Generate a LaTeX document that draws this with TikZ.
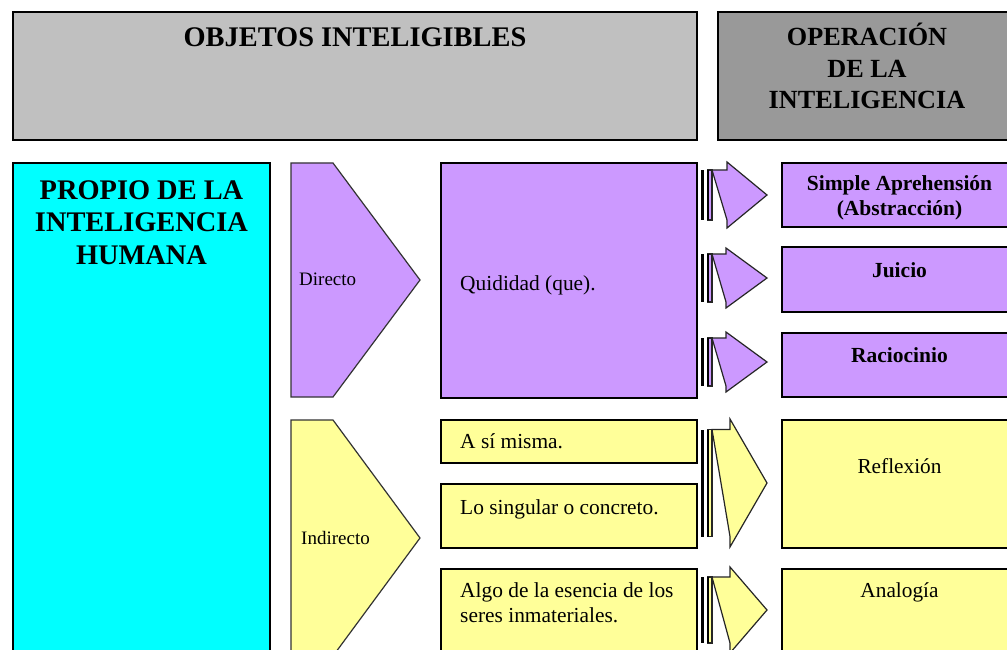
\documentclass[tikz,border=0pt]{standalone}
\usepackage{fontspec}
\setmainfont{Liberation Serif}
\definecolor{purp}{HTML}{CC99FF}
\definecolor{yel}{HTML}{FFFF99}
\definecolor{cyanbox}{HTML}{00FFFF}
\definecolor{lgray}{HTML}{C0C0C0}
\definecolor{dgray}{HTML}{999999}
\newcommand\sarrow[5]{%
  \fill[black] (700.5,#1-#3) rectangle (704,#1+#3);
  \draw[arrline,fill=#5] (707.5,#1-#3) rectangle (712,#1+#3);
  \fill[black] (706.8,#1-#3) rectangle (709,#1+#3);
  \draw[arrline,fill=#5] (712,#1-#3) -- (#4,#1-#3) -- (#4,#1-#2) -- (767,#1) -- (#4,#1+#2) -- (#4,#1+#3) -- cycle;}
\begin{document}
\begin{tikzpicture}[x=1pt,y=-1pt,
  box/.style={draw=black,line width=1.4pt,inner sep=0pt,outer sep=0pt,anchor=north west},
  topbox/.style={box,line width=1.8pt},
  arrline/.style={draw=black!85,line width=1.2pt,line join=miter},
  pent/.style={draw=black!80,line width=1.2pt},
  hd/.style={font=\fontsize{28.4}{32.5}\selectfont\bfseries,inner sep=0pt,anchor=base,align=center},
  hdb/.style={font=\fontsize{26.2}{31.5}\selectfont\bfseries,inner sep=0pt,anchor=base,align=center},
  txt/.style={font=\fontsize{21.4}{25}\selectfont,inner sep=0pt,anchor=base west,align=left},
  txtc/.style={font=\fontsize{21.3}{25}\selectfont,inner sep=0pt,anchor=base,align=center},
  btxt/.style={font=\fontsize{21.5}{25}\selectfont\bfseries,inner sep=0pt,anchor=base,align=center},
  lbl/.style={font=\fontsize{19}{23}\selectfont,inner sep=0pt,anchor=base west}]
\clip (0,0) rectangle (1007,650);
\fill[white] (0,0) rectangle (1007,650);
% header boxes
\node[topbox,fill=lgray,minimum width=684pt,minimum height=128pt] (obj) at (13,12) {};
\node[hd] (objt) at (355,47) {OBJETOS INTELIGIBLES};
\node[topbox,fill=dgray,minimum width=300pt,minimum height=128pt] (op) at (718,12) {};
\node[hdb] (opt) at (867,109) {OPERACIÓN\\DE LA\\INTELIGENCIA};
% left cyan
\node[box,fill=cyanbox,minimum width=257pt,minimum height=520pt] (prop) at (13,163) {};
\node[hd] (propt) at (141.5,264) {PROPIO DE LA\\INTELIGENCIA\\HUMANA};
% pentagons
\draw[pent,fill=purp] (291,163) -- (333,163) -- (420,280) -- (333,397) -- (291,397) -- cycle;
\node[lbl] (dir) at (299,285) {Directo};
\draw[pent,fill=yel] (291,420) -- (333,420) -- (420,538) -- (333,656) -- (291,656) -- cycle;
\node[lbl] (ind) at (301,544) {Indirecto};
% middle boxes
\node[box,fill=purp,minimum width=256pt,minimum height=235pt] (quid) at (441,163) {};
\node[txt] (quidt) at (460,290) {Quididad (que).};
\node[box,fill=yel,minimum width=256pt,minimum height=43pt] (asi) at (441,420) {};
\node[txt] (asit) at (460,448) {A sí misma.};
\node[box,fill=yel,minimum width=256pt,minimum height=64pt] (sing) at (441,484) {};
\node[txt] (singt) at (460,514) {Lo singular o concreto.};
\node[box,fill=yel,minimum width=256pt,minimum height=110pt] (alg) at (441,569) {};
\node[txt] (algt) at (460,622) {Algo de la esencia de los\\seres inmateriales.};
% arrows
\sarrow{195}{33}{25}{727}{purp}
\sarrow{278}{30}{24}{726}{purp}
\sarrow{362}{30}{24}{726}{purp}
\sarrow{483}{64}{53.5}{730}{yel}
\sarrow{610}{43}{33}{730}{yel}
% right boxes
\node[box,fill=purp,minimum width=240pt,minimum height=64pt] (sa) at (782,163) {};
\node[btxt] (sat) at (899.5,215) {Simple Aprehensión\\(Abstracción)};
\node[box,fill=purp,minimum width=240pt,minimum height=65pt] (ju) at (782,247) {};
\node[btxt] (jut) at (899.5,277) {Juicio};
\node[box,fill=purp,minimum width=240pt,minimum height=64pt] (ra) at (782,333) {};
\node[btxt] (rat) at (899.5,362) {Raciocinio};
\node[box,fill=yel,minimum width=240pt,minimum height=128pt] (re) at (782,420) {};
\node[txtc] (ret) at (899.5,473) {Reflexión};
\node[box,fill=yel,minimum width=240pt,minimum height=110pt] (an) at (782,569) {};
\node[txtc] (ant) at (899.5,597) {Analogía};
\end{tikzpicture}
\end{document}
